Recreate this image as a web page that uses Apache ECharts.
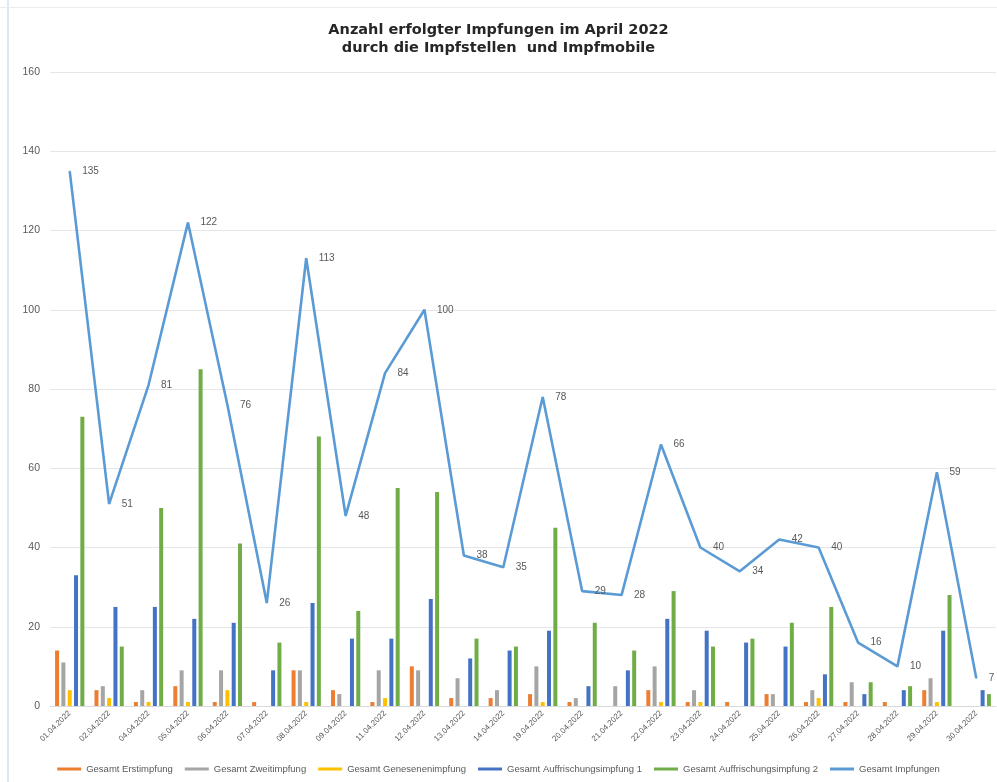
<!DOCTYPE html>
<html>
<head>
<meta charset="utf-8">
<script src="https://cdn.jsdelivr.net/npm/echarts@6/dist/echarts.min.js"></script>
<style>
html,body{margin:0;padding:0;background:#fff;}
#chart{width:997px;height:782px;}
</style>
</head>
<body>
<div id="chart"></div>
<script>
const categories = ['01.04.2022','02.04.2022','04.04.2022','05.04.2022','06.04.2022','07.04.2022','08.04.2022','09.04.2022','11.04.2022','12.04.2022','13.04.2022','14.04.2022','19.04.2022','20.04.2022','21.04.2022','22.04.2022','23.04.2022','24.04.2022','25.04.2022','26.04.2022','27.04.2022','28.04.2022','29.04.2022','30.04.2022'];
const erstimpfung      = [14,4,1,5,1,1,9,4,1,10,2,2,3,1,0,4,1,1,3,1,1,1,4,0];
const zweitimpfung     = [11,5,4,9,9,0,9,3,9,9,7,4,10,2,5,10,4,0,3,4,6,0,7,0];
const genesenenimpfung = [4,2,1,1,4,0,1,0,2,0,0,0,1,0,0,1,1,0,0,2,0,0,1,0];
const auffrischung1    = [33,25,25,22,21,9,26,17,17,27,12,14,19,5,9,22,19,16,15,8,3,4,19,4];
const auffrischung2    = [73,15,50,85,41,16,68,24,55,54,17,15,45,21,14,29,15,17,21,25,6,5,28,3];
const gesamt           = [135,51,81,122,76,26,113,48,84,100,38,35,78,29,28,66,40,34,42,40,16,10,59,7];
const yTicks = [0,20,40,60,80,100,120,140,160];

const chart = echarts.init(document.getElementById('chart'));
const barNames = ['Gesamt Erstimpfung','Gesamt Zweitimpfung','Gesamt Genesenenimpfung','Gesamt Auffrischungsimpfung 1','Gesamt Auffrischungsimpfung 2'];
const barData = [erstimpfung, zweitimpfung, genesenenimpfung, auffrischung1, auffrischung2];
const barColors = ['#ED7D31','#A5A5A5','#FFC000','#4472C4','#70AD47'];
const series = barNames.map((n,i)=>({
  name:n, type:'bar', data:barData[i], barWidth:4, barGap:'58%',
  itemStyle:{color:barColors[i]}
}));
series.push({
  name:'Gesamt Impfungen', type:'line', data:gesamt, symbol:'circle', symbolSize:1, showSymbol:true,
  lineStyle:{color:'#5B9BD5', width:2.6}, itemStyle:{color:'#5B9BD5'},
  label:{show:true, position:'right', distance:12, color:'#595959', fontSize:10, fontFamily:'Liberation Sans'},
  z:5
});
chart.setOption({
  animation:false,
  backgroundColor:'#fff',
  title:{
    text:'Anzahl erfolgter Impfungen im April 2022\ndurch die Impfstellen  und Impfmobile',
    left:'center', top:16,
    textStyle:{fontFamily:'DejaVu Sans', fontSize:14.5, fontWeight:'bold', color:'#262626', lineHeight:18}
  },
  legend:{
    bottom:3, left:'center', itemWidth:24, itemHeight:3, itemGap:12,
    textStyle:{fontSize:9.5, color:'#595959', fontFamily:'Liberation Sans'},
    data:barNames.map((n,i)=>({name:n, icon:'rect'})).concat([{name:'Gesamt Impfungen', icon:'rect'}])
  },
  grid:{left:50, right:1, top:72, bottom:76},
  xAxis:{
    type:'category', data:categories,
    axisLine:{lineStyle:{color:'#d9d9d9'}}, axisTick:{show:false},
    axisLabel:{rotate:45, fontSize:8, color:'#595959', margin:6, interval:0, fontFamily:'Liberation Sans'}
  },
  yAxis:{
    type:'value', min:yTicks[0], max:yTicks[yTicks.length-1], interval:20,
    axisLine:{show:false}, axisTick:{show:false},
    axisLabel:{fontSize:10.5, color:'#595959', margin:10, fontFamily:'Liberation Sans'},
    splitLine:{lineStyle:{color:'#e6e6e6'}}
  },
  graphic:[
    {type:'rect', shape:{x:7, y:0, width:2, height:782}, style:{fill:'#dce9f6'}, silent:true},
    {type:'rect', shape:{x:0, y:7, width:997, height:1}, style:{fill:'#ececec'}, silent:true}
  ],
  series:series
});
</script>
</body>
</html>
